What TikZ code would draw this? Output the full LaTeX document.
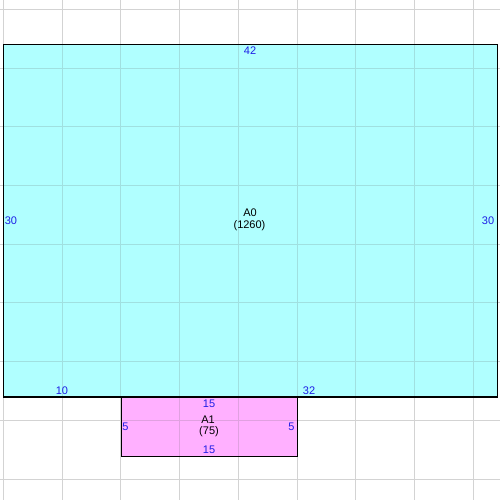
\documentclass[tikz,border=0pt]{standalone}
\usepackage{fontspec}
\setmainfont{Liberation Sans}
\definecolor{cyfill}{HTML}{B0FFFF}
\definecolor{pkfill}{HTML}{FFB0FF}
\definecolor{gridgray}{HTML}{D3D3D3}
\definecolor{gridcy}{HTML}{A0E0E0}
\definecolor{gridpk}{HTML}{E0A0E0}
\definecolor{dimblue}{HTML}{1E1EE6}
\begin{document}
\begin{tikzpicture}[x=0.03cm,y=-0.03cm,
  gridl/.style={line width=0.85pt},
  region/.style={draw=black,line width=0.9pt},
  dimlabel/.style={text=dimblue,inner sep=0pt,font=\fontsize{9.4}{11}\selectfont},
  namelabel/.style={text=black,inner sep=0pt,font=\fontsize{9.4}{11}\selectfont}]
\useasboundingbox (0,0) rectangle (500,500);
\fill[white] (0,0) rectangle (500,500);
% background grid
\foreach \i in {0,...,8} {
  \draw[gridl,gridgray] ({3.5+58.7*\i},0) -- ({3.5+58.7*\i},500);
  \draw[gridl,gridgray] (0,{9.4+58.7*\i}) -- (500,{9.4+58.7*\i});
}
% A0
\fill[cyfill] (3.7,44.7) rectangle (497.3,397);
\begin{scope}
\clip (3.7,44.7) rectangle (497.3,397);
\foreach \i in {0,...,8} {
  \draw[gridl,gridcy] ({3.5+58.7*\i},0) -- ({3.5+58.7*\i},500);
  \draw[gridl,gridcy] (0,{9.4+58.7*\i}) -- (500,{9.4+58.7*\i});
}
\end{scope}
% A1
\fill[pkfill] (121.3,397) rectangle (297.5,456.3);
\begin{scope}
\clip (121.3,397) rectangle (297.5,456.3);
\foreach \i in {0,...,8} {
  \draw[gridl,gridpk] ({3.5+58.7*\i},0) -- ({3.5+58.7*\i},500);
  \draw[gridl,gridpk] (0,{9.4+58.7*\i}) -- (500,{9.4+58.7*\i});
}
\end{scope}
\draw[region] (3.7,44.7) rectangle (497.3,397);
\draw[region] (121.3,397) rectangle (297.5,456.3);
% A0 labels
\node[dimlabel] (a0top) at (250,51) {42};
\node[dimlabel] (a0left) at (11,221) {30};
\node[dimlabel] (a0right) at (488,221) {30};
\node[dimlabel] (a0bl) at (62,391) {10};
\node[dimlabel] (a0br) at (309,391) {32};
\node[namelabel] (a0name) at (250,213) {A0};
\node[namelabel] (a0area) at (249.5,225.5) {(1260)};
% A1 labels
\node[dimlabel] (a1top) at (209,404) {15};
\node[dimlabel] (a1bot) at (209,450) {15};
\node[dimlabel] (a1left) at (125.5,427) {5};
\node[dimlabel] (a1right) at (291.5,427) {5};
\node[namelabel] (a1name) at (208,419.5) {A1};
\node[namelabel] (a1area) at (209,431.5) {(75)};
\end{tikzpicture}
\end{document}
